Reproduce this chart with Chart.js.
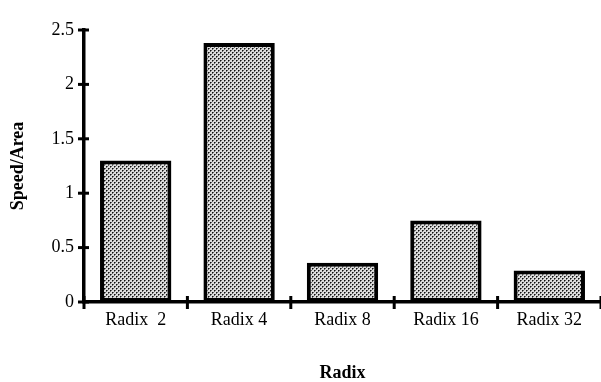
<!DOCTYPE html>
<html>
<head>
<meta charset="utf-8">
<script src="https://cdn.jsdelivr.net/npm/chart.js@4"></script>
<style>
  html, body { margin: 0; padding: 0; background: #fff; }
  #wrap { width: 601px; height: 382px; }
</style>
</head>
<body>
<div id="wrap"><canvas id="radix"></canvas></div>
<script>
const categories = ['Radix  2', 'Radix 4', 'Radix 8', 'Radix 16', 'Radix 32'];
const speedArea = [1.30, 2.38, 0.36, 0.75, 0.29];
const yTicks = [0, 0.5, 1, 1.5, 2, 2.5];

// stipple fill like the printed original
function stipple() {
  const c = document.createElement('canvas');
  c.width = 4; c.height = 4;
  const g = c.getContext('2d');
  g.fillStyle = '#dcdcdc';
  g.fillRect(0, 0, 4, 4);
  g.fillStyle = '#111';
  g.fillRect(0, 0, 1, 1);
  g.fillRect(2, 2, 1, 1);
  g.fillStyle = '#666';
  g.fillRect(1, 0, 1, 1);
  g.fillRect(0, 1, 1, 1);
  g.fillRect(3, 2, 1, 1);
  g.fillRect(2, 3, 1, 1);
  return g.createPattern(c, 'repeat');
}

// tick marks that cross the axis lines
const crossTicks = {
  id: 'crossTicks',
  afterDraw(chart) {
    const ctx = chart.ctx;
    const x = chart.scales.x, y = chart.scales.y;
    ctx.save();
    ctx.strokeStyle = '#000';
    ctx.lineWidth = 3;
    yTicks.forEach(v => {
      const py = y.getPixelForValue(v);
      ctx.beginPath();
      ctx.moveTo(y.right - 6, py);
      ctx.lineTo(y.right + 5, py);
      ctx.stroke();
    });
    for (let i = 0; i <= categories.length; i++) {
      const px = i === 0 ? x.left : x.getPixelForValue(i - 0.5);
      ctx.beginPath();
      ctx.moveTo(px, x.top - 6);
      ctx.lineTo(px, x.top + 7);
      ctx.stroke();
    }
    ctx.restore();
  }
};

new Chart(document.getElementById('radix'), {
  type: 'bar',
  data: {
    labels: categories,
    datasets: [{
      label: 'Speed/Area',
      data: speedArea,
      backgroundColor: stipple(),
      borderColor: '#000',
      borderWidth: 4,
      borderSkipped: false,
      categoryPercentage: 1,
      barPercentage: 0.69
    }]
  },
  options: {
    responsive: true,
    maintainAspectRatio: false,
    animation: false,
    layout: { padding: { top: 30, right: 0, left: 0, bottom: 0 } },
    plugins: { legend: { display: false }, tooltip: { enabled: false } },
    scales: {
      x: {
        offset: true,
        grid: { display: false, drawTicks: false },
        border: { color: '#000', width: 3.5 },
        ticks: {
          color: '#000', padding: 7,
          font: { family: 'Liberation Serif', size: 18 }
        },
        title: {
          display: true, text: 'Radix', color: '#000',
          padding: { top: 0, bottom: 0 },
          font: { family: 'Liberation Serif', size: 18, weight: 'bold', lineHeight: 1 }
        },
        afterFit(s) { s.height = 80; }
      },
      y: {
        min: 0, max: 2.5,
        afterBuildTicks(s) { s.ticks = yTicks.map(v => ({ value: v })); },
        grid: { display: false, drawTicks: false },
        border: { color: '#000', width: 3.5 },
        ticks: {
          color: '#000', padding: 10,
          callback: v => String(v),
          font: { family: 'Liberation Serif', size: 18 }
        },
        title: {
          display: true, text: 'Speed/Area', color: '#000',
          padding: { top: 8, bottom: 0 },
          font: { family: 'Liberation Serif', size: 18, weight: 'bold' }
        },
        afterFit(s) { s.width = 84; }
      }
    }
  },
  plugins: [crossTicks]
});
</script>
</body>
</html>
